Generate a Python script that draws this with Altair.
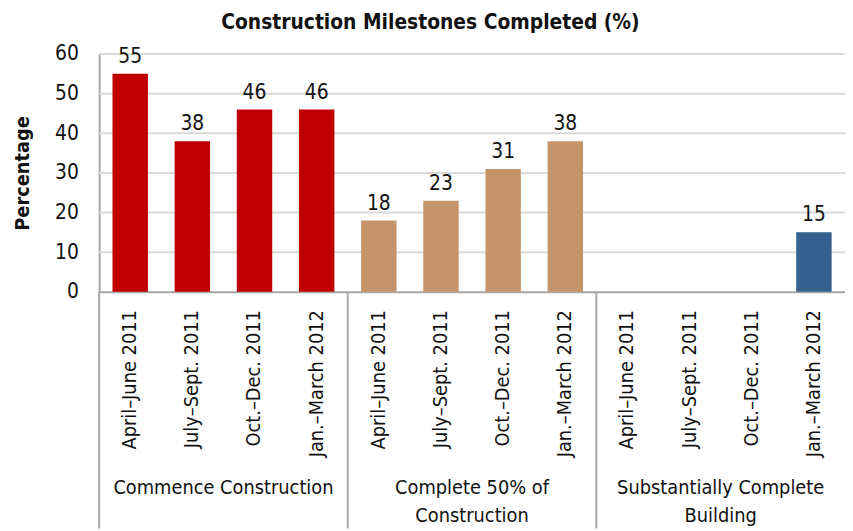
import altair as alt
import pandas as pd

periods = ["April–June 2011", "July–Sept. 2011", "Oct.–Dec. 2011", "Jan.–March 2012"]
groups = ["Commence Construction", "Complete 50% of\nConstruction", "Substantially Complete\nBuilding"]
commence = [55, 38, 46, 46]
complete50 = [18, 23, 31, 38]
substantial = [None, None, None, 15]
colors = ["#C00000", "#C4956A", "#35608F"]
y_ticks = [0, 10, 20, 30, 40, 50, 60]

series = [commence, complete50, substantial]
rows = []
keys = []
for gi, g in enumerate(groups):
    for pi, p in enumerate(periods):
        k = f"{gi}{pi}|{p}"
        keys.append(k)
        rows.append({"key": k, "group": g, "value": series[gi][pi]})
df = pd.DataFrame(rows)

sep_df = pd.DataFrame({"key": [keys[gi * 4] for gi in range(len(groups))]})
glab_df = pd.DataFrame({"key": [keys[gi * 4 + 2] for gi in range(len(groups))],
                        "label": groups})
tick_df = pd.DataFrame({"value": y_ticks})

FONT = "DejaVu Sans Condensed, Liberation Sans Narrow, sans-serif"
FS = 20

xaxis = alt.Axis(title=None, labelAngle=-90, labelAlign="right", labelBaseline="middle",
                 labelPadding=18, ticks=False, domainColor="#A6A6A6", domainWidth=2,
                 labelFontSize=FS, labelColor="#111111", labelFont=FONT,
                 labelExpr="split(datum.label, '|')[1]")
xscale = alt.Scale(domain=keys, paddingInner=0, paddingOuter=0)
yaxis = alt.Axis(title="Percentage", values=[float(v) for v in y_ticks], ticks=False,
                 labelPadding=21, labelOverlap=False, grid=False, format="d",
                 labelFontSize=FS + 1, labelColor="#111111", labelFont=FONT,
                 titleFont=FONT, titleFontSize=FS, titleFontWeight="bold",
                 titleColor="#111111", titlePadding=22,
                 domainColor="#A6A6A6", domainWidth=2)
yscale = alt.Scale(domain=[0, 60], nice=False)

grid = alt.Chart(tick_df).transform_filter("datum.value > 0").mark_rule(
    color="#D9D9D9", strokeWidth=2).encode(
    y=alt.Y("value:Q", scale=yscale, axis=yaxis), x=alt.value(0), x2=alt.value(753))

base = alt.Chart(df).transform_filter("datum.value != null")

bars = base.mark_bar(width=alt.RelativeBandSize(0.57)).encode(
    x=alt.X("key:O", scale=xscale, axis=xaxis),
    y=alt.Y("value:Q", scale=yscale, axis=yaxis),
    color=alt.Color("group:N", scale=alt.Scale(domain=groups, range=colors), legend=None),
)
labels = base.mark_text(baseline="bottom", dy=-7, fontSize=FS + 1, font=FONT, color="#111111").encode(
    x=alt.X("key:O", scale=xscale, axis=xaxis),
    y=alt.Y("value:Q", scale=yscale, axis=yaxis),
    text=alt.Text("value:Q"))

seps = alt.Chart(sep_df).mark_rule(color="#A6A6A6", strokeWidth=2).encode(
    x=alt.X("key:O", bandPosition=0, scale=xscale, axis=xaxis), y=alt.value(240), y2=alt.value(479))

glabs = alt.Chart(glab_df).mark_text(lineBreak="\n", baseline="middle", align="center",
                                     fontSize=FS, font=FONT, color="#111111", lineHeight=28).encode(
    x=alt.X("key:O", bandPosition=0, scale=xscale, axis=xaxis), y=alt.value(438), text="label:N")

chart = alt.layer(grid, bars, labels, seps, glabs).properties(
    width=753, height=240,
    title=alt.TitleParams("Construction Milestones Completed (%)", anchor="middle", dx=-42,
                          fontSize=21, font=FONT, fontWeight="bold", color="#111111", offset=10),
    autosize=alt.AutoSizeParams(type="none"),
    padding={"left": 92, "top": 44, "right": 0, "bottom": 239},
).configure_view(stroke=None)

chart.save("out.html", embed_options={"renderer": "svg", "actions": False})
